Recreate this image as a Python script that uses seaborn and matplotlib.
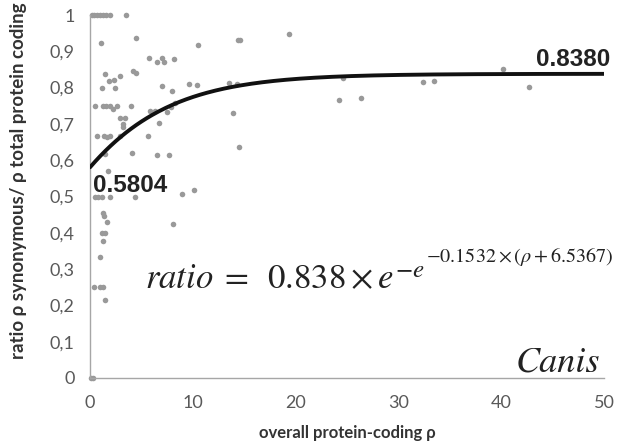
"""Canis: synonymous / total protein-coding ratio vs overall protein-coding rho."""

import numpy as np
import matplotlib
matplotlib.use("Agg")
import matplotlib.pyplot as plt
from matplotlib.transforms import IdentityTransform
import seaborn as sns
import pandas as pd

# observed points (overall rho, ratio)
rho_obs = [
    0.15, 0.4, 0.7, 1.0, 1.3, 1.6, 1.9, 3.5, 0.1, 0.3,
    1.04, 4.45, 10.5, 5.74, 6.49, 6.97, 7.23, 8.2,
    1.46, 1.82, 2.36, 2.95, 4.21, 4.47, 1.2, 2.46, 6.97, 7.95, 9.6, 10.4,
    0.49, 1.29, 1.56, 1.95, 2.21, 2.6, 3.96, 5.84, 6.32, 7.52, 7.85, 8.27,
    2.92, 3.43, 3.24, 3.18, 6.71,
    0.71, 1.39, 1.62, 1.95, 2.92, 5.67,
    1.46, 4.09, 6.49, 7.71,
    1.72, 0.49, 0.81, 1.14, 1.95, 4.38, 8.92, 10.1,
    1.24, 1.36, 1.68, 8.1, 1.17, 1.43, 1.29, 0.97, 0.42, 0.97, 1.29, 1.46,
    14.4, 14.6, 19.4, 13.5, 14.3, 13.9, 14.5, 24.6, 24.2, 26.4,
    32.4, 33.5, 40.2, 42.7,
]
ratio_obs = [
    1.0, 1.0, 1.0, 1.0, 1.0, 1.0, 1.0, 1.0, 0.0, 0.0,
    0.922, 0.936, 0.917, 0.882, 0.871, 0.881, 0.871, 0.878,
    0.838, 0.817, 0.821, 0.833, 0.846, 0.841, 0.798, 0.798, 0.805, 0.791, 0.811, 0.807,
    0.749, 0.749, 0.749, 0.749, 0.742, 0.749, 0.749, 0.736, 0.736, 0.734, 0.747, 0.758,
    0.715, 0.715, 0.70, 0.691, 0.703,
    0.666, 0.666, 0.663, 0.666, 0.666, 0.666,
    0.617, 0.62, 0.614, 0.614,
    0.570, 0.5, 0.5, 0.5, 0.5, 0.5, 0.506, 0.517,
    0.455, 0.447, 0.43, 0.424, 0.4, 0.4, 0.377, 0.333, 0.25, 0.25, 0.25, 0.215,
    0.931, 0.931, 0.947, 0.814, 0.811, 0.731, 0.636, 0.826, 0.766, 0.772,
    0.816, 0.819, 0.850, 0.801,
]

# Gompertz fit shown on the chart
fit_a = 0.838
fit_b = 0.1532
fit_c = 6.5367

x_ticks = [0, 10, 20, 30, 40, 50]
y_ticks = [0, 0.1, 0.2, 0.3, 0.4, 0.5, 0.6, 0.7, 0.8, 0.9, 1.0]
y_tick_labels = ["0", "0,1", "0,2", "0,3", "0,4", "0,5", "0,6", "0,7", "0,8", "0,9", "1"]

sns.set_style("white")
plt.rcParams["font.family"] = ["Lato", "DejaVu Sans"]
plt.rcParams["mathtext.fontset"] = "stix"

fig = plt.figure(figsize=(6.34, 4.44), dpi=100)
ax = fig.add_axes([90 / 634, 1 - 378 / 444, 514 / 634, 363 / 444])

df = pd.DataFrame({"rho": rho_obs, "ratio": ratio_obs})
sns.scatterplot(data=df, x="rho", y="ratio", ax=ax, color="#999999",
                s=16, linewidth=0, zorder=2, clip_on=False)

x_fit = np.linspace(0, 50, 300)
y_fit = fit_a * np.exp(-np.exp(-fit_b * (x_fit + fit_c)))
sns.lineplot(x=x_fit, y=y_fit, ax=ax, color="#111111", linewidth=2.8, zorder=3)

ax.set_xlim(0, 50)
ax.set_ylim(0, 1)
ax.set_xticks(x_ticks)
ax.set_yticks(y_ticks)
ax.set_yticklabels(y_tick_labels)
ax.tick_params(length=0, labelsize=13, colors="#595959")
ax.tick_params(axis="y", pad=11)
ax.tick_params(axis="x", pad=12)

for side in ["top", "right"]:
    ax.spines[side].set_visible(False)
for side in ["left", "bottom"]:
    ax.spines[side].set_color("#a6a6a6")
    ax.spines[side].set_linewidth(1.0)

ax.set_xlabel("overall protein-coding ρ", fontsize=12, fontweight="bold",
              color="#333333")
ax.set_ylabel("ratio ρ synonymous/ ρ total protein coding", fontsize=13.5,
              fontweight="bold", color="#333333")
ax.xaxis.set_label_coords(0.5, -0.13)
ax.yaxis.set_label_coords(-0.122, 0.543)

# value labels at both ends of the fit
ax.text(0.3, y_fit[0] - 0.05, f"{y_fit[0]:.4f}", fontsize=17.5, fontweight="bold",
        family=["Liberation Sans"], color="#222222", ha="left", va="center",
        zorder=4)
ax.text(50.6, 0.877, f"{fit_a:.4f}", fontsize=17.5, fontweight="bold",
        family=["Liberation Sans"], color="#222222", ha="right", va="center",
        zorder=4, clip_on=False)

# equation, built in three levels so the exponents keep their size
eq_x, eq_y = 5.35, 0.248
t1 = ax.text(eq_x, eq_y, r"$\mathit{ratio}\;=\;\;0.838\times e$",
             fontsize=25, color="#222222", ha="left", va="baseline")
fig.canvas.draw()
renderer = fig.canvas.get_renderer()
base_y = ax.transData.transform((eq_x, eq_y))[1]
bb1 = t1.get_window_extent(renderer)
t2 = fig.text(bb1.x1 + 1, base_y + 11, r"$-e$", fontsize=18, color="#222222",
              ha="left", va="baseline", transform=IdentityTransform())
bb2 = t2.get_window_extent(renderer)
fig.text(bb2.x1 + 1, base_y + 26, r"$-0.1532\times(\rho+6.5367)$", fontsize=14.5,
         color="#222222", ha="left", va="baseline", transform=IdentityTransform())

ax.text(49.6, 0.019, "Canis", fontsize=26, style="italic",
        family=["STIXGeneral", "DejaVu Serif"], color="#222222",
        ha="right", va="baseline")

fig.savefig("out.png", dpi=100, facecolor="white")
